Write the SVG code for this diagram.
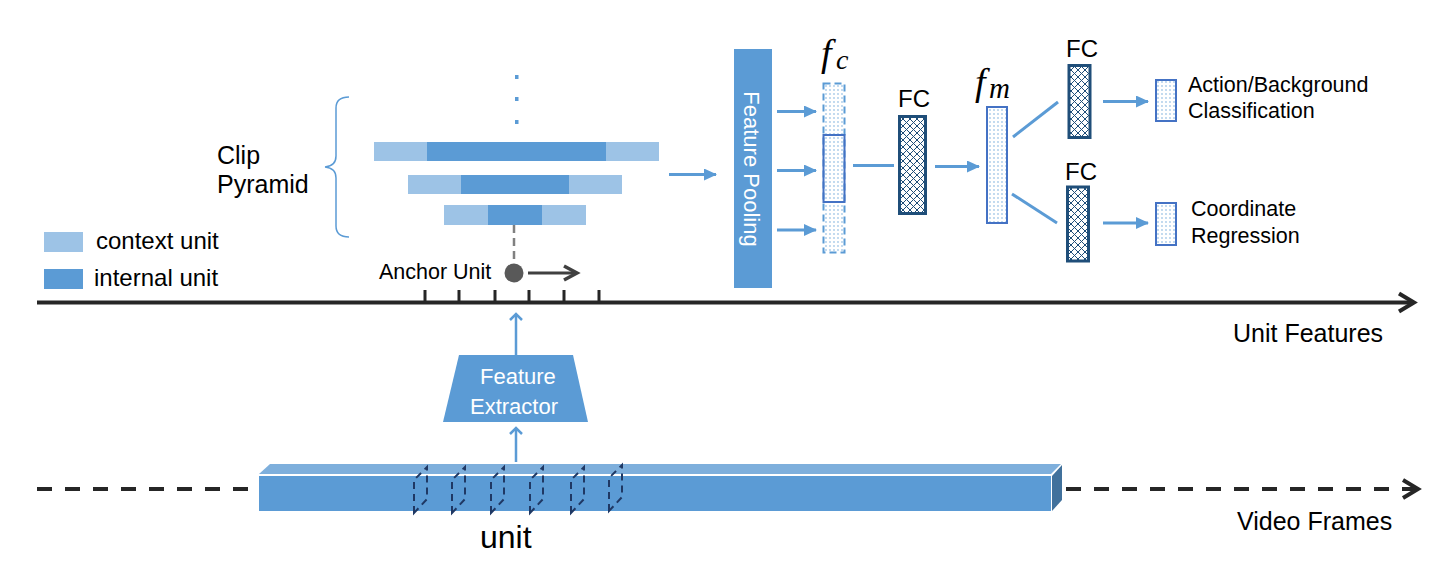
<svg xmlns="http://www.w3.org/2000/svg" width="1440" height="568" viewBox="0 0 1440 568">
<style>
.t{font-family:"Liberation Sans",Arial,sans-serif;fill:#000}
.w{font-family:"Liberation Sans",Arial,sans-serif;fill:#fff}
.m{font-family:"Liberation Serif","Times New Roman",serif;font-style:italic;fill:#000}
.bl{stroke:#5B9BD5;stroke-width:3;fill:none}
.lt{fill:#9DC3E6}
.dk{fill:#5B9BD5}
.fc{fill:url(#hatch);stroke:#1F4E79;stroke-width:3}
.dot{fill:url(#dots);stroke:#4472C4;stroke-width:2}
.slice{fill:none;stroke:#1F3864;stroke-width:2;stroke-dasharray:7 5}
</style>
<defs>
<pattern id="dots" width="4" height="4" patternUnits="userSpaceOnUse">
<rect width="4" height="4" fill="#fff"/>
<circle cx="2" cy="2" r="0.7" fill="#5B9BD5"/>
</pattern>
<pattern id="hatch" width="7" height="7" patternUnits="userSpaceOnUse">
<rect width="7" height="7" fill="#fff"/>
<path d="M0,0 L7,7 M7,0 L0,7" stroke="#1F4E79" stroke-width="1"/>
</pattern>
<marker id="ab" markerUnits="userSpaceOnUse" markerWidth="14" markerHeight="14" refX="12" refY="6" orient="auto">
<path d="M0,0 L13,6 L0,12 z" fill="#5B9BD5"/>
</marker>
<marker id="ac" markerUnits="userSpaceOnUse" markerWidth="16" markerHeight="16" refX="8" refY="8" orient="auto">
<path d="M2,2 L8,8 L2,14" fill="none" stroke="#5B9BD5" stroke-width="2.5"/>
</marker>
<marker id="ak" markerUnits="userSpaceOnUse" markerWidth="24" markerHeight="24" refX="18" refY="12" orient="auto">
<path d="M3,3 L18,12 L3,21" fill="none" stroke="#262626" stroke-width="4"/>
</marker>
<marker id="ag" markerUnits="userSpaceOnUse" markerWidth="22" markerHeight="22" refX="16" refY="11" orient="auto">
<path d="M3,4 L16,11 L3,18" fill="none" stroke="#404040" stroke-width="3.5"/>
</marker>
</defs>
<rect width="1440" height="568" fill="#fff"/>

<g id="legend">
<rect x="44" y="232" width="39" height="20" class="lt"/>
<text x="96" y="249" class="t" font-size="24">context unit</text>
<rect x="44" y="269" width="39" height="20" class="dk"/>
<text x="94" y="286" class="t" font-size="24">internal unit</text>
</g>

<g id="clip-pyramid">
<text x="217" y="164" class="t" font-size="25">Clip</text>
<text x="217" y="193" class="t" font-size="25">Pyramid</text>
<path d="M349,97 Q336,97 336,108 L336,156 Q336,166 325,167 Q336,168 336,178 L336,226 Q336,237 349,237" fill="none" stroke="#5B9BD5" stroke-width="1.5"/>
<rect x="515" y="75" width="3.5" height="4" class="dk"/>
<rect x="515" y="97" width="3.5" height="4" class="dk"/>
<rect x="515" y="120" width="3.5" height="4" class="dk"/>
<rect x="374" y="142" width="285" height="19" class="lt"/>
<rect x="427" y="142" width="179" height="19" class="dk"/>
<rect x="408" y="175" width="214" height="19" class="lt"/>
<rect x="461" y="175" width="108" height="19" class="dk"/>
<rect x="444" y="205" width="142" height="20" class="lt"/>
<rect x="488" y="205" width="54" height="20" class="dk"/>
</g>

<g id="anchor">
<line x1="514" y1="225" x2="514" y2="264" stroke="#808080" stroke-width="2.5" stroke-dasharray="8 5"/>
<circle cx="514" cy="273" r="9.5" fill="#595959"/>
<text x="379" y="279" class="t" font-size="21.5">Anchor Unit</text>
</g>

<g id="feature-pooling">
<rect x="734" y="49" width="38" height="239" class="dk"/>
<text transform="translate(744,169) rotate(90)" text-anchor="middle" class="w" font-size="22">Feature Pooling</text>
</g>

<g id="fc-feature">
<rect x="823.5" y="83.5" width="21" height="169" fill="url(#dots)" stroke="#5B9BD5" stroke-width="2" stroke-dasharray="7 4"/>
<rect x="823.5" y="135" width="21" height="67" fill="none" stroke="#4472C4" stroke-width="2"/>
<text x="821" y="66" class="m" font-size="38">f</text>
<text x="836" y="69" class="m" font-size="28">c</text>
</g>

<g id="fc1">
<rect x="899.5" y="116.5" width="26" height="97" class="fc"/>
<text x="898" y="107" class="t" font-size="24">FC</text>
</g>

<g id="fm-feature">
<rect x="987" y="107" width="20" height="116" class="dot"/>
<text x="975" y="95" class="m" font-size="38">f</text>
<text x="989" y="98" class="m" font-size="29">m</text>
</g>

<g id="fc2">
<rect x="1069" y="65.5" width="21" height="72" class="fc"/>
<text x="1066" y="57" class="t" font-size="24">FC</text>
</g>

<g id="fc3">
<rect x="1067.5" y="187" width="21" height="74" class="fc"/>
<text x="1065" y="180" class="t" font-size="24">FC</text>
</g>

<g id="cls-out">
<rect x="1156" y="80" width="20" height="41" class="dot"/>
<text x="1188" y="92" class="t" font-size="21.5">Action/Background</text>
<text x="1188" y="118" class="t" font-size="21.5">Classification</text>
</g>

<g id="reg-out">
<rect x="1156" y="203" width="20" height="42" class="dot"/>
<text x="1191" y="216" class="t" font-size="21.5">Coordinate</text>
<text x="1191" y="243" class="t" font-size="21.5">Regression</text>
</g>

<g id="feature-extractor">
<path d="M459,355 L573,355 L588,422 L443,422 Z" class="dk"/>
<text x="480" y="384" class="w" font-size="22">Feature</text>
<text x="470" y="414" class="w" font-size="22">Extractor</text>
</g>

<g id="video">
<path d="M259,474 L270,464 L1061,464 L1051,474 Z" fill="#7EAFDC"/>
<rect x="259" y="476" width="792" height="35" class="dk"/>
<path d="M1052,476 L1062,465 L1062,500 L1052,511 Z" fill="#41719C"/>
<path d="M414,513 L414,480 L427,467 L427,499 Z" class="slice"/>
<path d="M452,513 L452,480 L465,467 L465,499 Z" class="slice"/>
<path d="M491,513 L491,480 L504,467 L504,499 Z" class="slice"/>
<path d="M530,513 L530,480 L543,467 L543,499 Z" class="slice"/>
<path d="M571,513 L571,480 L584,467 L584,499 Z" class="slice"/>
<path d="M609,511 L609,478 L622,465 L622,497 Z" class="slice"/>
<text x="480" y="548" class="t" font-size="32">unit</text>
</g>

<g id="axis-labels">
<text x="1233" y="342" class="t" font-size="25">Unit Features</text>
<text x="1237" y="530" class="t" font-size="25">Video Frames</text>
</g>

<g id="connectors">
<line x1="37" y1="302.5" x2="1414" y2="302.5" stroke="#262626" stroke-width="4" marker-end="url(#ak)"/>
<path d="M425,290 V302 M459,290 V302 M495,290 V302 M529,290 V302 M564,290 V302 M599,290 V302" stroke="#262626" stroke-width="3"/>
<line x1="528" y1="273" x2="577" y2="273" stroke="#404040" stroke-width="3" marker-end="url(#ag)"/>
<line x1="37" y1="489" x2="257" y2="489" stroke="#262626" stroke-width="4" stroke-dasharray="15 13"/>
<line x1="1066" y1="489" x2="1418" y2="489" stroke="#262626" stroke-width="4" stroke-dasharray="15 13" marker-end="url(#ak)"/>
<line x1="516" y1="462" x2="516" y2="428" stroke="#5B9BD5" stroke-width="2.5" marker-end="url(#ac)"/>
<line x1="516" y1="355" x2="516" y2="314" stroke="#5B9BD5" stroke-width="2.5" marker-end="url(#ac)"/>
<line x1="669" y1="174.5" x2="716" y2="174.5" class="bl" marker-end="url(#ab)"/>
<line x1="777" y1="111.5" x2="816" y2="111.5" class="bl" marker-end="url(#ab)"/>
<line x1="777" y1="170.5" x2="816" y2="170.5" class="bl" marker-end="url(#ab)"/>
<line x1="777" y1="230" x2="816" y2="230" class="bl" marker-end="url(#ab)"/>
<line x1="853" y1="165.5" x2="894" y2="165.5" class="bl"/>
<line x1="935" y1="166.5" x2="979" y2="166.5" class="bl" marker-end="url(#ab)"/>
<line x1="1013" y1="137" x2="1058" y2="102" class="bl"/>
<line x1="1012" y1="194" x2="1057" y2="223" class="bl"/>
<line x1="1103" y1="101.5" x2="1148" y2="101.5" class="bl" marker-end="url(#ab)"/>
<line x1="1103" y1="223" x2="1148" y2="223" class="bl" marker-end="url(#ab)"/>
</g>
</svg>
